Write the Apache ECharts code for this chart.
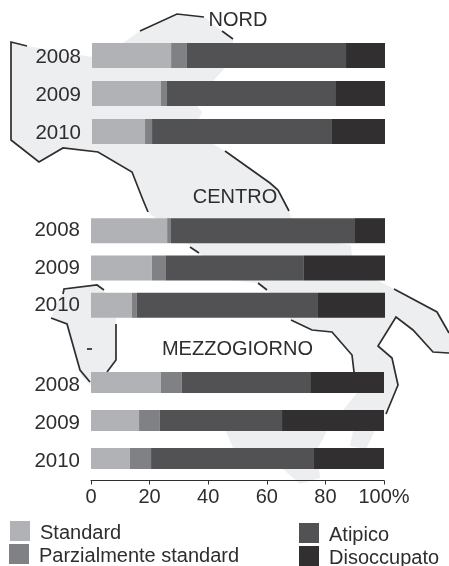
<!DOCTYPE html>
<html>
<head>
<meta charset="utf-8">
<style>
html, body { margin: 0; padding: 0; background: #fff; }
#chart { width: 449px; height: 566px; }
</style>
<script src="https://cdn.jsdelivr.net/npm/echarts@6/dist/echarts.min.js"></script>
</head>
<body>
<div id="chart"></div>
<script>
// dati (% per anno, tre aree)
var years = ['2008', '2009', '2010'];
var areaNames = ['NORD', 'CENTRO', 'MEZZOGIORNO'];
var seriesNames = ['Standard', 'Parzialmente standard', 'Atipico', 'Disoccupato'];
var xTicks = ['0', '20', '40', '60', '80', '100%'];

var nordStandard = [27, 23.5, 18.1];
var nordParziale = [5.4, 2.1, 2.4];
var nordAtipico = [54.3, 57.4, 61.4];
var nordDisoccupato = [13.3, 17, 18.1];

var centroStandard = [25.9, 20.7, 13.9];
var centroParziale = [1.3, 4.8, 1.7];
var centroAtipico = [62.6, 46.9, 61.6];
var centroDisoccupato = [10.2, 27.6, 22.8];

var sudStandard = [23.8, 16.4, 13.3];
var sudParziale = [7.2, 7.1, 7.2];
var sudAtipico = [43.8, 41.7, 55.6];
var sudDisoccupato = [25.2, 34.8, 23.9];

var colors = ['#b1b2b5', '#808185', '#525254', '#312f30'];
var textColor = '#2e2e30';
var fontName = '"Liberation Sans", Arial, sans-serif';

// sagoma dell'Italia, solo sfondo
var italia = [[27,46],[11,42],[11,140],[39,162],[63,148],[98,152],[132,172],[143,200],[148,212],[187,243],[199,253],[228,280],[258,283],[267,290],[291,320],[312,330],[332,332],[352,355],[354,372],[357,393],[343,410],[353,431],[350,446],[366,449],[375,431],[385,414],[398,385],[392,358],[378,346],[396,317],[413,330],[433,352],[449,354],[449,333],[437,312],[394,289],[377,280],[352,256],[351,245],[337,243],[291,218],[289,211],[278,190],[270,183],[225,151],[213,144],[199,119],[202,112],[197,106],[213,81],[225,68],[233,43],[233,39],[222,31],[204,17],[177,14],[140,31],[123,43],[92,57]];
var sicilia = [[226,422],[226,431],[233,448],[283,469],[300,484],[320,478],[319,469],[318,448],[327,431],[332,422]];
var sardegna = [[63,290],[97,285],[104,291],[116,315],[116,360],[107,372],[90,385],[81,375],[67,324],[51,318]];
var coste = [
    [[27,46],[11,42],[11,140],[39,162],[63,148],[98,152],[132,172],[143,200],[148,212]],
    [[140,31],[177,14],[204,17]],
    [[222,31],[233,39]],
    [[225,151],[270,183],[278,190],[289,211]],
    [[190,247],[199,253]],
    [[258,283],[267,290]],
    [[291,320],[312,330],[332,332],[352,355],[354,372]],
    [[394,289],[437,312],[449,333]],
    [[449,353],[433,352],[413,330],[396,317],[378,346],[392,358],[398,385],[386,414]],
    [[63,294],[64,289],[97,285],[104,290]],
    [[51,318],[67,324],[80,370],[90,382]],
    [[116,324],[116,360],[107,372]],
    [[87,349],[92,349]]
];

var areaLabels = [[238, 20], [235, 197.5], [237.5, 349]];
var grids = [
    { left: 92, width: 293, top: 36.5, height: 114 },
    { left: 91, width: 294, top: 212, height: 112 },
    { left: 91, width: 293, top: 363.5, height: 114 }
];
var barHeights = [25, 25, 21];
// lineHeight piccolo con verticalAlign top: sposta il testo in basso di poco
var yLabelAlign = ['top', 'middle', 'top'];
var yLabelLine = [3, 22, 5];

var elements = [];
[italia, sicilia, sardegna].forEach(function (pts) {
    elements.push({ type: 'polygon', z: 0, silent: true, shape: { points: pts }, style: { fill: '#edeef0' } });
});
coste.forEach(function (pts) {
    elements.push({ type: 'polyline', z: 1, silent: true, shape: { points: pts }, style: { fill: null, stroke: '#2e2e30', lineWidth: 1.7 } });
});
areaNames.forEach(function (name, i) {
    elements.push({
        type: 'text', z: 5, silent: true,
        x: areaLabels[i][0], y: areaLabels[i][1],
        style: { text: name, fill: textColor, font: '20px ' + fontName, align: 'center', verticalAlign: 'middle' }
    });
});

var xAxes = grids.map(function (g, i) {
    var last = i === 2;
    return {
        type: 'value', gridIndex: i, min: 0, max: 100, interval: 20, show: last,
        offset: 3,
        splitLine: { show: false },
        axisLine: { show: true, lineStyle: { color: textColor, width: 1 } },
        axisTick: { show: true, length: 4, lineStyle: { color: textColor, width: 1 } },
        axisLabel: {
            color: textColor, fontSize: 20, fontFamily: fontName, margin: 7,
            hideOverlap: false, showMaxLabel: true,
            formatter: function (v) { return xTicks[v / 20]; }
        }
    };
});
var yAxes = grids.map(function (g, i) {
    return {
        type: 'category', gridIndex: i, data: years, inverse: true,
        axisLine: { show: false }, axisTick: { show: false },
        axisLabel: {
            color: textColor, fontSize: 20.5, fontFamily: fontName, margin: 11,
            verticalAlign: yLabelAlign[i], lineHeight: yLabelLine[i]
        }
    };
});

var tables = [
    [nordStandard, nordParziale, nordAtipico, nordDisoccupato],
    [centroStandard, centroParziale, centroAtipico, centroDisoccupato],
    [sudStandard, sudParziale, sudAtipico, sudDisoccupato]
];
var series = [];
tables.forEach(function (table, i) {
    table.forEach(function (values, k) {
        series.push({
            name: seriesNames[k], type: 'bar', stack: 'area' + i,
            xAxisIndex: i, yAxisIndex: i, barWidth: barHeights[i], z: 3,
            itemStyle: { color: colors[k] }, silent: true, data: values
        });
    });
});

function legendItem(name, left, top) {
    return {
        data: [name], left: left, top: top, padding: 0, itemWidth: 20, itemHeight: 20, icon: 'rect',
        selectedMode: false,
        formatter: '{a|{name}}',
        textStyle: {
            color: textColor, fontSize: 20, fontFamily: fontName, padding: [0, 0, 0, 5],
            rich: { a: { color: textColor, fontSize: 20, fontFamily: fontName, padding: [5, 0, 0, 0] } }
        }
    };
}

var myChart = echarts.init(document.getElementById('chart'), null, { renderer: 'canvas' });
myChart.setOption({
    animation: false,
    backgroundColor: '#fff',
    grid: grids,
    xAxis: xAxes,
    yAxis: yAxes,
    series: series,
    legend: [
        legendItem(seriesNames[0], 10, 521),
        legendItem(seriesNames[1], 9, 544),
        legendItem(seriesNames[2], 299, 523),
        legendItem(seriesNames[3], 299, 546)
    ],
    graphic: { elements: elements }
});
</script>
</body>
</html>
